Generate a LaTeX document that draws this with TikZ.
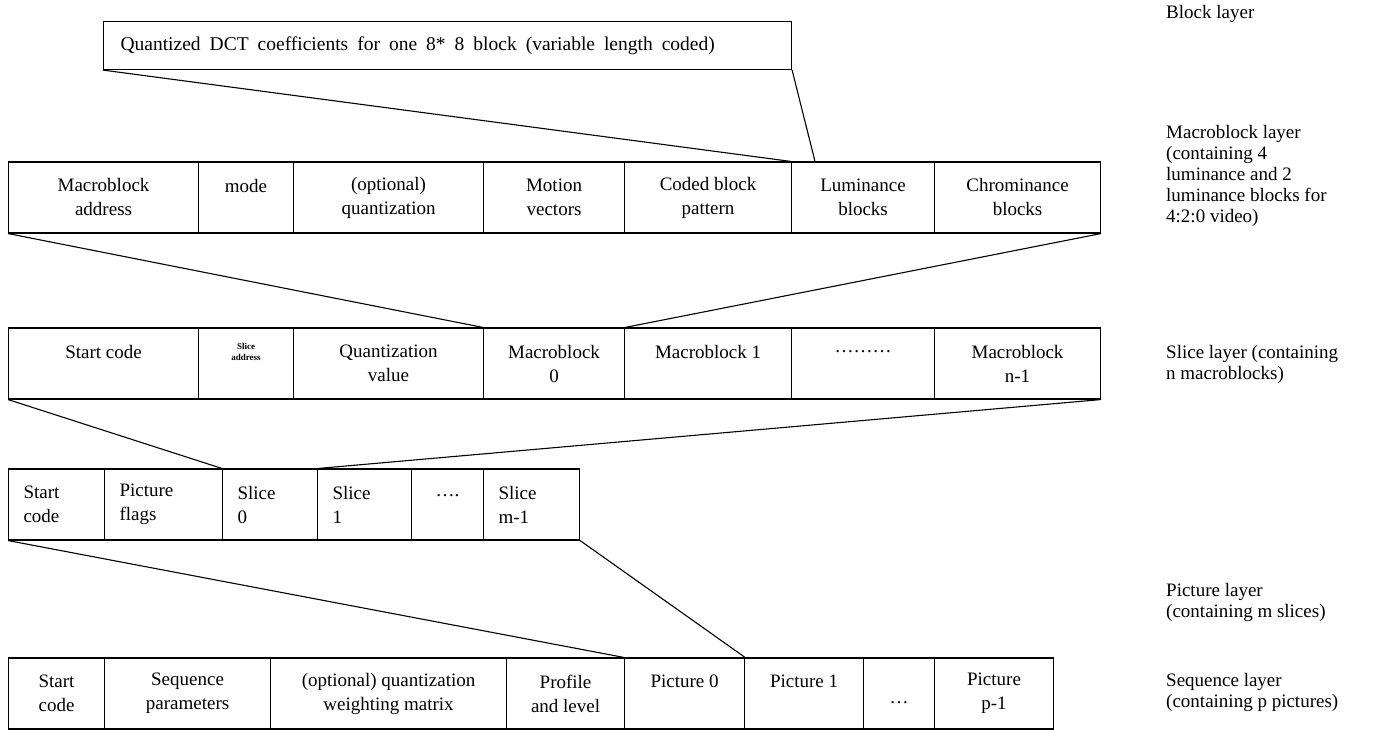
\documentclass[tikz,border=0pt]{standalone}
\usepackage{fontspec}
\setmainfont{Liberation Serif}
\newcommand{\widesp}{\spaceskip=9pt plus 1pt\relax}
\begin{document}
\begin{tikzpicture}[x=1pt,y=-1pt,
  cell/.style={draw, line width=1.1pt, inner sep=0pt, minimum height=71pt, align=center, anchor=west,
    font=\fontsize{19}{24}\selectfont},
  lcell/.style={cell, align=left, inner xsep=15pt},
  lab/.style={anchor=north west, align=left, inner sep=0pt, font=\fontsize{19}{21}\selectfont},
  conn/.style={line width=1.1pt}]
\useasboundingbox (0,0) rectangle (1374,730);
% Block layer
\node[draw, line width=1.1pt, anchor=north west, minimum width=688pt, minimum height=48pt, inner sep=0pt,
  text width=654pt, inner xsep=17pt, align=left, font=\fontsize{19.5}{24}\selectfont] (blk) at (103,21)
  {\widesp Quantized DCT coefficients for one 8* 8 block (variable length coded)};
% Macroblock layer
\node[cell, minimum width=190pt] (m1) at (8,197.5) {Macroblock\\address};
\node[cell, minimum width=95pt] (m2) at (198,197.5) {mode\\\mbox{}};
\node[cell, minimum width=190pt] (m3) at (293,197.5) {(optional)\\quantization};
\node[cell, minimum width=141pt] (m4) at (483,197.5) {Motion\\vectors};
\node[cell, minimum width=167pt] (m5) at (624,197.5) {Coded block\\pattern};
\node[cell, minimum width=143pt] (m6) at (791,197.5) {Luminance\\blocks};
\node[cell, minimum width=166pt] (m7) at (934,197.5) {Chrominance\\blocks};
% Slice layer
\node[cell, minimum width=190pt] (s1) at (8,363.5) {Start code\\\mbox{}};
\node[cell, minimum width=95pt, font=\fontsize{9}{11}\selectfont\bfseries] (s2) at (198,363.5) {Slice\\address\\[12pt]};
\node[cell, minimum width=190pt] (s3) at (293,363.5) {Quantization\\value};
\node[cell, minimum width=141pt] (s4) at (483,363.5) {Macroblock\\0};
\node[cell, minimum width=167pt] (s5) at (624,363.5) {Macroblock 1\\\mbox{}};
\node[cell, minimum width=143pt] (s6) at (791,363.5) {\dots\dots\dots\\\mbox{}};
\node[cell, minimum width=166pt] (s7) at (934,363.5) {Macroblock\\n-1};
% Picture layer
\node[lcell, minimum width=96pt, text width=66pt] (p1) at (8,504.5) {Start\\code};
\node[lcell, minimum width=118pt, text width=88pt] (p2) at (104,504.5) {Picture\\flags};
\node[lcell, minimum width=95pt, text width=65pt] (p3) at (222,504.5) {Slice\\0};
\node[lcell, minimum width=94pt, text width=64pt] (p4) at (317,504.5) {Slice\\1};
\node[cell, minimum width=72pt] (p5) at (411,504.5) {\dots.\\[-6pt]\mbox{}};
\node[lcell, minimum width=96pt, text width=66pt] (p6) at (483,504.5) {Slice\\m-1};
% Sequence layer
\node[cell, minimum width=96pt] (q1) at (8,693.5) {Start\\code};
\node[cell, minimum width=166pt] (q2) at (104,693.5) {Sequence\\parameters};
\node[cell, minimum width=236pt] (q3) at (270,693.5) {(optional) quantization\\weighting matrix};
\node[cell, minimum width=118pt] (q4) at (506,693.5) {Profile\\and level};
\node[cell, minimum width=120pt] (q5) at (624,693.5) {Picture 0\\\mbox{}};
\node[cell, minimum width=119pt] (q6) at (744,693.5) {Picture 1\\\mbox{}};
\node[cell, minimum width=71pt] (q7) at (863,693.5) {\mbox{}\\[-4pt]\dots};
\node[cell, minimum width=119pt] (q8) at (934,693.5) {Picture\\p-1};
% connectors
\draw[conn] (blk.south west) -- (m6.north west);
\draw[conn] (blk.south east) -- ([xshift=24pt]m6.north west);
\draw[conn] (m1.south west) -- (s4.north west);
\draw[conn] (m7.south east) -- (s4.north east);
\draw[conn] (s1.south west) -- (p3.north west);
\draw[conn] (s7.south east) -- (p3.north east);
\draw[conn] (p1.south west) -- (q5.north west);
\draw[conn] (p6.south east) -- (q5.north east);
% layer labels
\node[lab] (l1) at (1166,5) {Block layer};
\node[lab] (l2) at (1166,125) {Macroblock layer\\(containing 4\\luminance and 2\\luminance blocks for\\4:2:0 video)};
\node[lab] (l3) at (1166,345) {Slice layer (containing\\n macroblocks)};
\node[lab] (l4) at (1166,583) {Picture layer\\(containing m slices)};
\node[lab] (l5) at (1166,673) {Sequence layer\\(containing p pictures)};
\end{tikzpicture}
\end{document}
